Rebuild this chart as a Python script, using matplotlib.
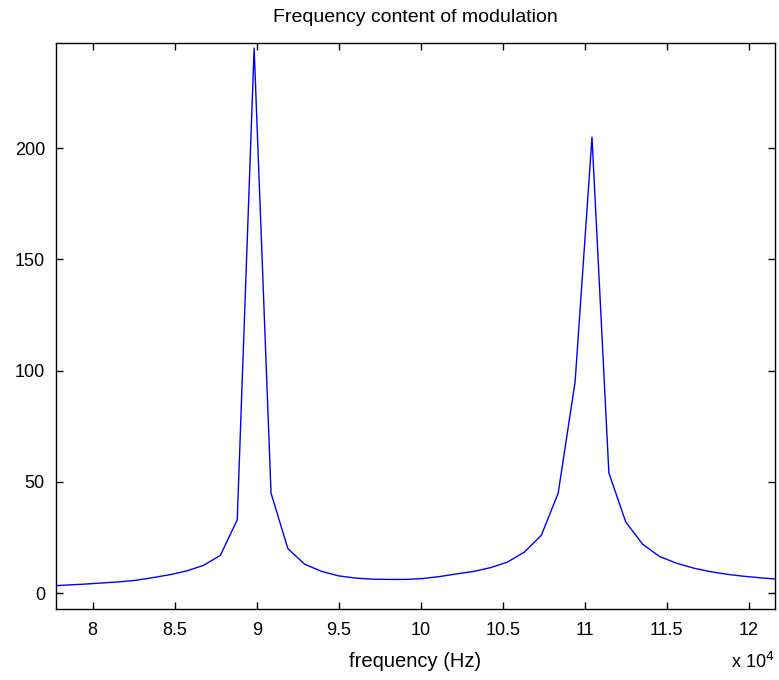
import matplotlib
matplotlib.use('Agg')
import matplotlib.pyplot as plt
from matplotlib.ticker import FuncFormatter

# frequency bins (Hz) and magnitude
freq = [77480, 78510, 79540, 80570, 81600, 82630, 83660, 84690, 85720, 86750,
        87780, 88810, 89840, 90870, 91900, 92930, 93960, 94990, 96020, 97050,
        98080, 99110, 100140, 101170, 102200, 103230, 104260, 105290, 106320, 107350,
        108380, 109410, 110440, 111470, 112500, 113530, 114560, 115590, 116620, 117650,
        118680, 119710, 120740, 121770]
mag = [3.3, 3.7, 4.1, 4.6, 5.1, 5.8, 7.0, 8.3, 10.0, 12.5,
       17.0, 33.0, 245.0, 45.0, 20.0, 13.0, 9.8, 7.8, 6.8, 6.3,
       6.2, 6.2, 6.6, 7.5, 8.7, 9.8, 11.5, 14.0, 18.5, 26.0,
       45.0, 95.0, 205.0, 54.0, 32.0, 22.0, 16.5, 13.5, 11.3, 9.7,
       8.5, 7.6, 6.9, 6.3]

xticks = [80000, 85000, 90000, 95000, 100000, 105000, 110000, 115000, 120000]
yticks = [0, 50, 100, 150, 200]

plt.rcParams['font.family'] = ['Liberation Sans', 'DejaVu Sans']

fig = plt.figure(figsize=(7.79, 6.8), dpi=100)
ax = fig.add_axes([0.0719, 0.1044, 0.9230, 0.8324])
ax.plot(freq, mag, color='#0000ff', linewidth=1.0)

ax.set_xlim(77760, 121600)
ax.set_ylim(-7.1, 247.3)
ax.set_xticks(xticks)
ax.set_yticks(yticks)
ax.xaxis.set_major_formatter(FuncFormatter(lambda v, p: ('%g' % (v / 1e4))))
ax.tick_params(direction='in', top=True, right=True, length=5, width=1,
               labelsize=13)
ax.tick_params(axis='x', pad=9)
ax.tick_params(axis='y', pad=8)
for s in ax.spines.values():
    s.set_linewidth(1.0)

ax.set_title('Frequency content of modulation', fontsize=14, pad=15)
ax.set_xlabel('frequency (Hz)', fontsize=14.5, labelpad=10)
fig.text(0.966, 0.012, r'x 10$^4$', fontsize=13, ha='center', va='bottom')

plt.savefig('out.png', dpi=100)
